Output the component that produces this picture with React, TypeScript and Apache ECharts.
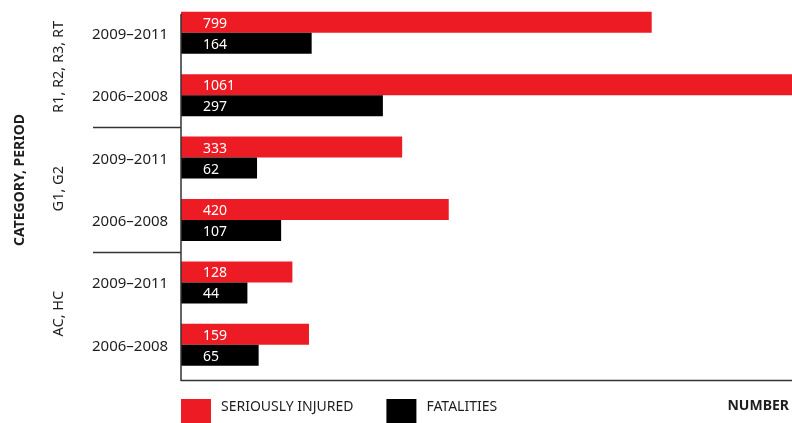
import React, { useEffect, useRef } from 'react';
import * as echarts from 'echarts';

const groups = ['R1, R2, R3, RT', 'G1, G2', 'AC, HC'];
const periods = ['2009–2011', '2006–2008'];
const injured = [799, 1061, 333, 420, 128, 159];
const fatalities = [164, 297, 62, 107, 44, 65];
const seriesNames = ['SERIOUSLY INJURED', 'FATALITIES'];
const yTitle = 'CATEGORY, PERIOD';
const xTitle = 'NUMBER';

const PAD = 80; // blank value span before zero, where the labels sit
const FONT = '"Noto Sans", sans-serif';
const TXT = '#1e1e1e';
const RED = '#ED1C24';

const rowKeys: string[] = [];
groups.forEach((g, gi) => periods.forEach((p, pi) => rowKeys.push(gi + '|' + pi)));

export default function App() {
  const ref = useRef<HTMLDivElement>(null);
  useEffect(() => {
    if (!ref.current) return;
    const chart = echarts.init(ref.current, undefined, { renderer: 'svg' });
    const maxV = Math.max(...injured, ...fatalities);
    const labelCfg = {
      show: true,
      position: 'insideLeft',
      distance: 22,
      color: '#fff',
      fontFamily: FONT,
      fontSize: 14,
      formatter: (p: any) => String(p.data.raw),
    };
    chart.setOption({
      animation: false,
      grid: { left: 181, right: 0, top: 1.5, bottom: 47, containLabel: false },
      xAxis: {
        type: 'value',
        min: 0,
        max: maxV + PAD,
        show: false,
      },
      yAxis: {
        type: 'category',
        inverse: true,
        data: rowKeys,
        axisLine: { show: false },
        axisTick: { show: false },
        splitLine: { show: false },
        axisLabel: {
          align: 'left',
          margin: 89,
          fontFamily: FONT,
          fontSize: 15,
          color: TXT,
          formatter: (v: string) => periods[Number(v.split('|')[1])],
        },
      },
      legend: {
        left: 181,
        top: 398,
        padding: 0,
        itemWidth: 30,
        itemHeight: 25,
        itemGap: 33,
        icon: 'rect',
        data: seriesNames,
        selectedMode: false,
        formatter: (n: string) => n + '\n ',
        textStyle: {
          fontFamily: FONT,
          fontSize: 14,
          lineHeight: 13,
          color: TXT,
          padding: [0, 0, 0, 5],
        },
      },
      series: [
        {
          name: seriesNames[0],
          type: 'bar',
          barWidth: 21,
          barGap: '0%',
          itemStyle: { color: RED },
          label: labelCfg,
          data: injured.map((v) => ({ value: v + PAD, raw: v })),
        },
        {
          name: seriesNames[1],
          type: 'bar',
          barWidth: 21,
          barGap: '0%',
          itemStyle: { color: '#000' },
          label: labelCfg,
          data: fatalities.map((v) => ({ value: v + PAD, raw: v })),
        },
      ],
    });

    const yOf = (k: string) => chart.convertToPixel({ yAxisIndex: 0 }, k) as number;
    const graphics: any[] = [];
    groups.forEach((g, gi) => {
      const y1 = yOf(rowKeys[gi * 2]);
      const y2 = yOf(rowKeys[gi * 2 + 1]);
      graphics.push({
        type: 'text',
        x: 57,
        y: (y1 + y2) / 2 + (gi === 0 ? 3 : 0),
        rotation: Math.PI / 2,
        style: {
          text: g,
          fontFamily: FONT,
          fontSize: 14.5,
          fill: TXT,
          align: 'center',
          verticalAlign: 'middle',
        },
      });
      if (gi < groups.length - 1) {
        const yn = yOf(rowKeys[gi * 2 + 2]);
        const ys = Math.round((y2 + yn) / 2 + 1) + 0.5;
        graphics.push({
          type: 'line',
          shape: { x1: 93, y1: ys, x2: 181, y2: ys },
          style: { stroke: '#333', lineWidth: 1.3 },
        });
      }
    });
    graphics.push(
      {
        type: 'line',
        shape: { x1: 181, y1: 14, x2: 181, y2: 380.5 },
        style: { stroke: '#333', lineWidth: 1.5 },
        z: 10,
      },
      {
        type: 'line',
        shape: { x1: 180.5, y1: 380.5, x2: 792, y2: 380.5 },
        style: { stroke: '#333', lineWidth: 1.5 },
        z: 10,
      },
      {
        type: 'text',
        x: 18,
        y: 180,
        rotation: Math.PI / 2,
        style: {
          text: yTitle,
          fontFamily: FONT,
          fontSize: 14,
          fontWeight: 'bold',
          fill: TXT,
          align: 'center',
          verticalAlign: 'middle',
        },
      },
      {
        type: 'text',
        x: 789,
        y: 404,
        style: {
          text: xTitle,
          fontFamily: FONT,
          fontSize: 14,
          fontWeight: 'bold',
          fill: TXT,
          align: 'right',
          verticalAlign: 'middle',
        },
      }
    );
    chart.setOption({ graphic: graphics });
    return () => chart.dispose();
  }, []);
  return (
    <div
      ref={ref}
      style={{ position: 'fixed', left: 0, top: 0, width: 792, height: 423 }}
    />
  );
}
